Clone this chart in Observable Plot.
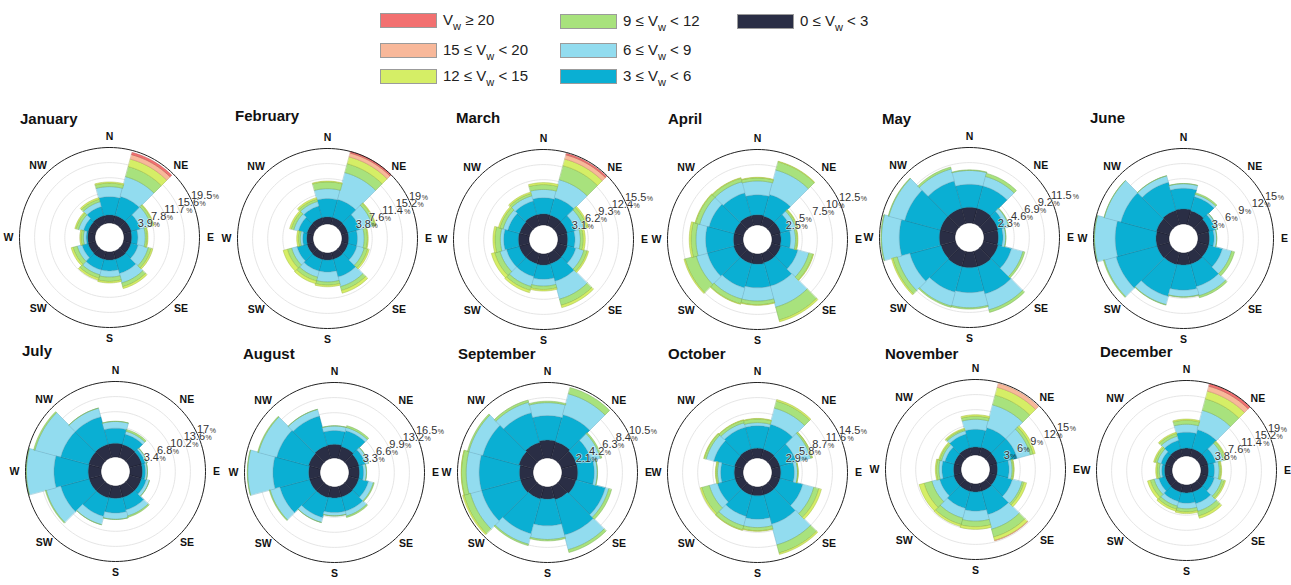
<!DOCTYPE html>
<html><head><meta charset="utf-8">
<script src="https://cdn.jsdelivr.net/npm/d3@7"></script>
<script src="https://cdn.jsdelivr.net/npm/@observablehq/plot@0.6"></script>
<style>
body{margin:0;background:#fff;font-family:"Liberation Sans",Arial,sans-serif;}
#root{position:relative;width:1291px;height:585px;overflow:hidden;background:#fff;}
.title{position:absolute;font-weight:bold;font-size:15px;line-height:15px;color:#111;white-space:nowrap;}
.rose{position:absolute;width:240px;height:240px;}
.rose svg{overflow:visible;}
.sw{position:absolute;width:57px;height:15px;border:1px solid #9b9b9b;box-sizing:border-box;}
.lt{position:absolute;font-size:15px;line-height:15px;color:#222;white-space:nowrap;}
.lt .w{font-size:11px;position:relative;top:5px;}
</style></head><body><div id="root"></div>
<script>
// ---------------- data ----------------
const months = ["January","February","March","April","May","June","July","August","September","October","November","December"];
const directions = [0,30,60,90,120,150,180,210,240,270,300,330];
const compassLabels = ["N","NE","E","SE","S","SW","W","NW"];
const compassAngles = [0,45,90,135,180,225,270,315];
const speedBins = ["0-3","3-6","6-9","9-12","12-15","15-20",">=20"];
const radialMax = [19.5,19,15.5,12.5,11.5,15,17,16.5,10.5,14.5,15,19];

// frequency (%) per speed bin (rows) and direction (columns)
const jan = [
 [2.1,2.1,2.1,2.0,2.0,2.1,2.1,2.1,2.0,1.9,2.0,2.1],
 [4.7,5.1,2.4,1.6,1.9,3.8,2.8,2.8,1.6,0.4,1.2,2.4],
 [2.6,5.3,2.9,1.9,2.7,2.5,1.6,1.3,1.3,0.7,1.3,1.3],
 [0.9,2.7,0.6,0.5,0.8,1.0,1.1,0.9,1.1,0.6,0.7,0.7],
 [0.3,2.0,0.2,0.2,0.4,0.5,0.4,0.5,0.5,0.3,0.3,0.4],
 [0,1.2,0,0,0,0,0,0,0,0,0,0],
 [0,0.6,0,0,0,0,0,0,0,0,0,0]];
const feb = [
 [1.8,1.8,1.7,1.7,1.7,1.8,1.8,1.8,1.7,1.6,1.7,1.8],
 [4.6,4.7,3.1,2.2,2.3,4.6,3.0,3.0,2.6,1.0,2.2,3.0],
 [2.5,7.0,3.3,1.7,1.9,2.5,2.5,1.6,1.4,0.6,1.2,1.2],
 [1.7,2.3,0.7,0.8,0.9,1.0,0.8,1.0,1.1,0.5,0.7,0.6],
 [0.2,1.8,0.2,0.2,0.4,0.7,0.4,0.7,1.1,0.4,0.4,0.4],
 [0,1.0,0,0,0,0,0,0,0,0,0,0],
 [0,0.4,0,0,0,0,0,0,0,0,0,0]];
const mar = [
 [2.3,2.2,2.1,2.0,2.1,2.2,2.3,2.2,2.2,2.2,2.1,2.3],
 [3.3,3.7,1.8,1.5,1.8,3.7,2.9,2.7,2.7,3.0,2.5,2.9],
 [1.7,3.8,1.7,1.1,1.7,3.8,1.4,2.1,1.4,0.7,1.0,1.1],
 [1.0,3.0,0.7,0.6,0.7,1.3,0.7,0.8,1.1,1.1,0.7,0.5],
 [0.4,1.4,0.3,0.4,0.3,0.5,0.3,0.5,0.7,0.4,0.3,0.3],
 [0,0.9,0,0,0,0,0,0,0,0,0,0],
 [0,0.3,0,0,0,0,0,0,0,0,0,0]];
const apr = [
 [1.7,1.6,1.6,1.5,1.6,1.6,1.7,1.7,1.7,1.6,1.6,1.7],
 [3.3,3.7,1.8,1.6,2.9,4.0,3.9,4.2,4.5,4.6,4.3,3.9],
 [2.3,4.2,0.8,0.8,1.9,3.6,2.2,1.9,1.9,1.6,1.6,1.9],
 [0.5,1.4,0.3,0.3,0.7,2.2,0.6,0.8,1.9,0.8,0.7,0.6],
 [0.1,0.1,0.1,0.1,0.1,0.3,0.1,0.1,0.2,0.3,0.1,0.1],
 [0,0,0,0,0,0,0,0,0,0,0,0],
 [0,0,0,0,0,0,0,0,0,0,0,0]];
const may = [
 [2.4,2.4,2.3,2.2,2.3,2.4,2.4,2.4,2.3,2.4,2.4,2.4],
 [3.5,3.5,1.1,0.7,2.1,4.3,3.8,4.0,4.9,6.1,5.6,4.3],
 [2.1,1.5,0.6,0.4,1.8,2.5,2.3,2.2,2.0,2.7,2.5,1.9],
 [0.1,0.5,0.1,0.05,0.3,0.4,0.2,0.2,0.7,0.1,0.1,0.3],
 [0,0,0,0,0,0,0,0,0.2,0,0,0],
 [0,0,0,0,0,0,0,0,0,0,0,0],
 [0,0,0,0,0,0,0,0,0,0,0,0]];
const jun = [
 [3.0,2.8,2.5,2.3,2.3,2.4,2.4,2.5,2.6,2.6,2.7,2.9],
 [4.1,2.9,1.2,0.9,2.8,4.6,5.0,6.5,8.4,8.1,7.3,5.8],
 [0.9,0.5,0.4,0.5,1.9,1.9,1.3,1.7,2.4,4.1,3.4,1.3],
 [0.05,0.3,0.05,0.05,0.6,0.4,0.1,0.1,0.2,0.05,0.05,0.05],
 [0,0,0,0,0,0,0,0,0,0,0,0],
 [0,0,0,0,0,0,0,0,0,0,0,0],
 [0,0,0,0,0,0,0,0,0,0,0,0]];
const jul = [
 [3.1,3.0,2.9,2.8,2.8,2.8,2.8,2.9,2.9,2.9,3.0,3.1],
 [3.4,2.4,0.8,0.7,1.1,2.9,3.3,4.3,6.6,7.7,6.5,6.4],
 [1.5,0.7,0.4,0.4,0.7,1.4,1.4,1.9,3.4,6.2,6.0,2.0],
 [0.05,0.4,0.05,0.05,0.05,0.3,0.05,0.05,0.2,0.1,0.3,0.05],
 [0,0,0,0,0,0,0,0,0,0,0,0],
 [0,0,0,0,0,0,0,0,0,0,0,0],
 [0,0,0,0,0,0,0,0,0,0,0,0]];
const aug = [
 [3.0,2.7,2.4,2.3,2.3,2.4,2.4,2.5,2.5,2.5,2.7,2.9],
 [3.0,3.6,1.4,0.9,2.2,3.2,3.2,4.5,6.7,7.8,7.2,6.7],
 [1.0,0.7,0.7,0.6,1.1,1.1,0.7,1.1,2.2,5.5,4.1,1.5],
 [0.05,0.4,0.05,0.05,0.2,0.3,0.05,0.05,0.2,0.1,0.2,0.05],
 [0,0,0,0,0,0,0,0,0,0,0,0],
 [0,0,0,0,0,0,0,0,0,0,0,0],
 [0,0,0,0,0,0,0,0,0,0,0,0]];
const sep = [
 [2.5,2.4,2.2,2.2,2.1,1.9,1.7,1.8,1.9,1.9,2.1,2.3],
 [3.4,3.9,2.1,2.3,4.2,5.1,3.7,5.0,5.6,5.6,5.2,4.3],
 [1.8,3.0,1.3,0.4,0.5,2.1,1.9,1.5,1.6,1.8,2.0,1.5],
 [0.2,0.9,0.2,0.05,0.4,0.4,0.2,0.2,0.9,0.65,0.2,0.3],
 [0,0,0,0,0,0,0,0,0.2,0.05,0,0],
 [0,0,0,0,0,0,0,0,0,0,0,0],
 [0,0,0,0,0,0,0,0,0,0,0,0]];
const oct = [
 [1.9,1.8,1.7,1.7,1.7,1.7,1.7,1.7,1.7,1.7,1.8,1.9],
 [4.3,5.0,3.2,2.6,4.5,5.8,4.5,4.2,3.5,2.6,4.1,4.3],
 [0.6,3.2,2.9,0.6,2.2,4.1,1.6,1.9,1.6,0.6,1.5,0.9],
 [0.7,1.4,0.3,0.1,1.0,1.6,0.6,0.8,1.5,0.3,0.4,0.5],
 [0.1,0.3,0.05,0.05,0.5,0.3,0.1,0.1,0.3,0.1,0.1,0.1],
 [0,0,0,0,0,0,0,0,0,0,0,0],
 [0,0,0,0,0,0,0,0,0,0,0,0]];
const nov = [
 [1.6,1.7,1.6,1.5,1.5,1.6,1.6,1.6,1.6,1.5,1.5,1.6],
 [3.5,4.0,4.1,2.3,3.2,4.8,3.8,3.5,2.9,2.3,1.9,2.8],
 [2.0,4.7,2.7,0.6,2.0,3.0,2.0,2.0,1.6,0.6,0.7,0.7],
 [0.6,2.0,0.6,0.3,0.4,1.6,1.1,1.3,1.6,0.5,0.4,0.3],
 [0.3,1.6,0.4,0.1,0.5,0.7,0.5,0.4,1.0,0.2,0.2,0.2],
 [0,0.8,0,0,0,0.1,0,0,0,0,0,0],
 [0,0,0,0,0,0,0,0,0,0,0,0]];
const dec = [
 [2.0,2.0,2.0,1.9,1.9,2.0,2.0,2.0,1.9,1.9,1.9,2.0],
 [4.0,5.0,2.0,1.5,1.7,3.0,2.6,2.4,1.7,0.7,1.1,2.2],
 [2.0,5.0,2.0,1.2,1.9,2.0,1.4,1.2,1.2,0.6,1.0,1.1],
 [1.0,3.0,0.6,0.4,0.7,1.2,0.8,0.8,1.0,0.6,0.6,0.7],
 [0.3,2.0,0.2,0.2,0.3,0.6,0.4,0.5,0.7,0.3,0.3,0.3],
 [0,1.3,0,0,0,0,0,0,0,0,0,0],
 [0,0.6,0,0,0,0,0,0,0,0,0,0]];
const monthData = [jan,feb,mar,apr,may,jun,jul,aug,sep,oct,nov,dec];

// ---------------- styles / layout ----------------
const binFill   = ["#2a2e45","#0aafd3","#92dcef","#a8e27d","#d5ee66","#f8b89a","#f27070"];
const binStroke = ["#1a1c2c","#17819c","#6eb2c6","#79ad55","#a3b941","#c98a6c","#b64c4c"];
const centers = [[109,237],[327,238],[543,239],[757,239],[969,237],[1183,238],
                 [115,471],[334,472],[547,472],[757,472],[975,469],[1186,470]];
const titlePos = [[20,111],[235,108],[456,110],[668,111],[882,111],[1090,110],
                  [22,343],[243,346],[458,346],[668,346],[885,346],[1100,344]];
const R = 90, HOLE = 14.5, SZ = 240, MG = (SZ - 2*R)/2;
const LABEL_ANGLE = 62;

const root = document.getElementById("root");
const rad = a => a*Math.PI/180;

function sector(dir, r0, r1, id, n = 12) {
  const pts = [], a0 = dir - 15, a1 = dir + 15;
  for (let i = 0; i <= n; i++) { const a = rad(a0 + (a1-a0)*i/n); pts.push({id, x: r1*Math.sin(a), y: r1*Math.cos(a)}); }
  for (let i = n; i >= 0; i--) { const a = rad(a0 + (a1-a0)*i/n); pts.push({id, x: r0*Math.sin(a), y: r0*Math.cos(a)}); }
  return pts;
}
function circle(r, id, n = 144) {
  return d3.range(n).map(i => { const a = rad(360*i/n); return {id, x: r*Math.sin(a), y: r*Math.cos(a)}; });
}

months.forEach((name, mi) => {
  const M = radialMax[mi];
  const hole = M*HOLE/(R - HOLE);
  const D = M + hole;
  const bins = monthData[mi];
  const polys = bins.map(() => []);
  directions.forEach((dir, j) => {
    let c = 0;
    bins.forEach((arr, b) => {
      const v = arr[j];
      if (v > 0) polys[b].push(...sector(dir, hole + c, hole + c + v, b + "-" + j));
      c += v;
    });
  });
  const grid = [1,2,3,4].flatMap(k => circle(hole + k*M/5, k));
  const outer = circle(D, 0);
  const ticks = [1,2,3,4,5].map(k => {
    const label = String(+(k*M/5).toFixed(1));
    const r = hole + k*M/5;
    const w = label.replace(/[^0-9]/g,"").length*6.1 + (label.includes(".") ? 3.1 : 0);
    return {label, w, x: r*Math.sin(rad(LABEL_ANGLE)), y: r*Math.cos(rad(LABEL_ANGLE))};
  });
  const compass = compassLabels.map((t, i) => {
    const r = D*(R + 11)/R, a = rad(compassAngles[i]);
    return {t, x: r*Math.sin(a), y: r*Math.cos(a)};
  });

  const marks = [
    Plot.line(grid, {x: "x", y: "y", z: "id", curve: "linear-closed", stroke: "#e2e2e2", strokeWidth: 0.9})
  ];
  polys.forEach((p, b) => {
    if (p.length) marks.push(Plot.line(p, {x: "x", y: "y", z: "id", curve: "linear-closed",
      fill: binFill[b], stroke: binStroke[b], strokeWidth: 0.6, strokeOpacity: 0.8}));
  });
  marks.push(Plot.line(outer, {x: "x", y: "y", curve: "linear-closed", stroke: "#222", strokeWidth: 1}));
  marks.push(Plot.text(compass, {x: "x", y: "y", text: "t", fontWeight: "bold", fontSize: 10.5, fill: "#111"}));
  marks.push(Plot.text(ticks, {x: "x", y: "y", text: "label", textAnchor: "start", dx: 2, fontSize: 11,
    fill: "#333", stroke: "white", strokeWidth: 1.5, strokeOpacity: 0.6}));
  ticks.forEach(t => marks.push(Plot.text([t], {x: "x", y: "y", text: () => "%", textAnchor: "start",
    dx: 2.5 + t.w, dy: 1.5, fontSize: 7, fill: "#333"})));

  const svg = Plot.plot({
    width: SZ, height: SZ, margin: MG,
    x: {domain: [-D, D], axis: null},
    y: {domain: [-D, D], axis: null},
    style: {background: "none", overflow: "visible", fontFamily: "'Liberation Sans', Arial, sans-serif"},
    marks
  });
  const holder = document.createElement("div");
  holder.className = "rose";
  holder.style.left = (centers[mi][0] - SZ/2) + "px";
  holder.style.top = (centers[mi][1] - SZ/2) + "px";
  holder.appendChild(svg);
  root.appendChild(holder);

  const t = document.createElement("div");
  t.className = "title";
  t.textContent = name;
  t.style.left = titlePos[mi][0] + "px";
  t.style.top = titlePos[mi][1] + "px";
  root.appendChild(t);
});

// ---------------- legend ----------------
const legendText = [
  ["0 ≤ V", " < 3"], ["3 ≤ V", " < 6"], ["6 ≤ V", " < 9"], ["9 ≤ V", " < 12"],
  ["12 ≤ V", " < 15"], ["15 ≤ V", " < 20"], ["V", " ≥ 20"]];
const legendPos = [[737,14],[560,69],[560,43],[560,14],[380,69],[380,43],[380,13]];
legendText.forEach((txt, b) => {
  const [x, y] = legendPos[b];
  const sw = document.createElement("div");
  sw.className = "sw";
  sw.style.left = x + "px"; sw.style.top = y + "px"; sw.style.background = binFill[b];
  root.appendChild(sw);
  const lt = document.createElement("div");
  lt.className = "lt";
  lt.style.left = (x + 63) + "px"; lt.style.top = (y - 1) + "px";
  lt.innerHTML = txt[0] + '<span class="w">w</span>' + txt[1];
  root.appendChild(lt);
});
</script></body></html>
